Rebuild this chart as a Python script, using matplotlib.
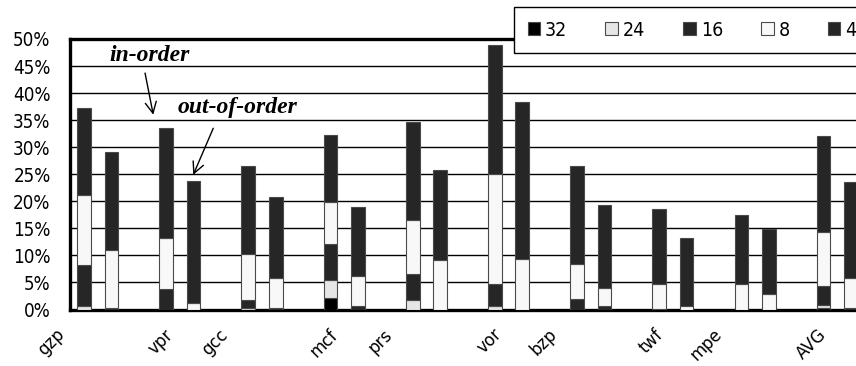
import numpy as np
import matplotlib
matplotlib.use("Agg")
import matplotlib.pyplot as plt
from matplotlib.patches import Patch
from matplotlib.font_manager import FontProperties

benchmarks = ['gzp', 'vpr', 'gcc', 'mcf', 'prs', 'vor', 'bzp', 'twf', 'mpe', 'AVG']
series = ['32', '24', '16', '8', '4']

# in-order bars (percent), bottom to top: 32, 24, 16, 8, 4
inorder = {
    '32': [0.0, 0.0, 0.0, 2.2, 0.0, 0.0, 0.0, 0.0, 0.0, 0.2],
    '24': [0.6, 0.0, 0.3, 3.2, 1.8, 0.6, 0.0, 0.0, 0.0, 0.7],
    '16': [7.6, 3.7, 1.5, 6.7, 4.8, 4.2, 1.9, 0.1, 0.0, 3.5],
    '8':  [12.9, 9.6, 8.5, 7.8, 10.0, 20.3, 6.5, 4.6, 4.7, 10.0],
    '4':  [16.2, 20.3, 16.2, 12.4, 18.0, 23.8, 18.1, 13.9, 12.7, 17.6],
}
# out-of-order bars (percent)
outorder = {
    '32': [0.0, 0.0, 0.0, 0.0, 0.0, 0.0, 0.0, 0.0, 0.0, 0.0],
    '24': [0.0, 0.0, 0.0, 0.0, 0.0, 0.0, 0.0, 0.0, 0.0, 0.0],
    '16': [0.2, 0.0, 0.2, 0.7, 0.0, 0.0, 0.6, 0.0, 0.0, 0.3],
    '8':  [10.8, 1.2, 5.6, 5.4, 9.1, 9.4, 3.3, 0.7, 2.8, 5.5],
    '4':  [18.1, 22.6, 15.0, 12.8, 16.6, 28.9, 15.4, 12.6, 12.0, 17.7],
}

colors = {'32': '#000000', '24': '#e6e6e6', '16': '#262626', '8': '#f8f8f8', '4': '#262626'}
# where the category labels sit (in bar-slot units)
label_slots = [-0.8, 3.15, 5.15, 9.15, 11.15, 15.15, 17.15, 21.05, 23.2, 27.0]

narrow = FontProperties(family='DejaVu Sans', stretch='condensed', size=13.5)
legfont = FontProperties(family='DejaVu Sans', stretch='condensed', size=14)

fig = plt.figure(figsize=(8.56, 3.66), dpi=100)
ax = fig.add_axes([70 / 856, 56.5 / 366, 822 / 856, 270.5 / 366])

x_in = np.arange(len(benchmarks)) * 3
x_out = x_in + 1
width = 0.5

for xs, data in [(x_in, inorder), (x_out, outorder)]:
    bottom = np.zeros(len(benchmarks))
    for s in series:
        vals = np.array(data[s])
        ax.bar(xs, vals, width, bottom=bottom, color=colors[s],
               edgecolor='#4a4a4a', linewidth=0.8, zorder=3)
        bottom += vals

ax.set_xticks([])
ax.set_xlim(-0.51, 29.5)
ax.set_ylim(0, 50)
ax.set_yticks(np.arange(0, 51, 5))
ax.set_yticklabels([f'{v}%' for v in range(0, 51, 5)], fontproperties=narrow)
ax.tick_params(axis='y', length=0, pad=14)
for y in range(5, 50, 5):
    ax.axhline(y, color='black', linewidth=1.0, zorder=1)

# rotated category labels
trans = ax.get_xaxis_transform()
for pos, name in zip(label_slots, benchmarks):
    ax.text(pos, -0.083, name, transform=trans, rotation=45, ha='right', va='center',
            rotation_mode='anchor', family='DejaVu Sans', fontsize=12, clip_on=False)

for side in ['left', 'bottom', 'top']:
    ax.spines[side].set_linewidth(2.4)
    ax.spines[side].set_color('black')
ax.spines['right'].set_visible(False)

txt = dict(ha='center', va='center', fontsize=17, fontweight='bold',
           fontstyle='italic', family='Liberation Serif')
arrow = dict(arrowstyle='->', lw=1.0, color='black', mutation_scale=20,
             shrinkA=0, shrinkB=0)
ax.text(2.38, 47.0, 'in-order', **txt)
ax.annotate('', xy=(2.53, 36.0), xytext=(2.23, 43.7), arrowprops=arrow)
ax.text(5.6, 37.4, 'out-of-order', **txt)
ax.annotate('', xy=(3.99, 24.9), xytext=(4.72, 33.5), arrowprops=arrow)

handles = [Patch(facecolor=colors[s], edgecolor='#4a4a4a', linewidth=0.8) for s in series]
leg = fig.legend(handles, series, loc='upper left',
                 bbox_to_anchor=(514 / 856, 0, 356 / 856, 1 - 7 / 366), mode='expand',
                 ncol=5, frameon=True, fancybox=False, edgecolor='black', framealpha=1,
                 prop=legfont, handlelength=0.65, handleheight=0.65,
                 handletextpad=0.25, borderpad=0.7, borderaxespad=0)
leg.get_frame().set_linewidth(1.0)
leg.set_zorder(10)

fig.savefig('out.png', dpi=100)
